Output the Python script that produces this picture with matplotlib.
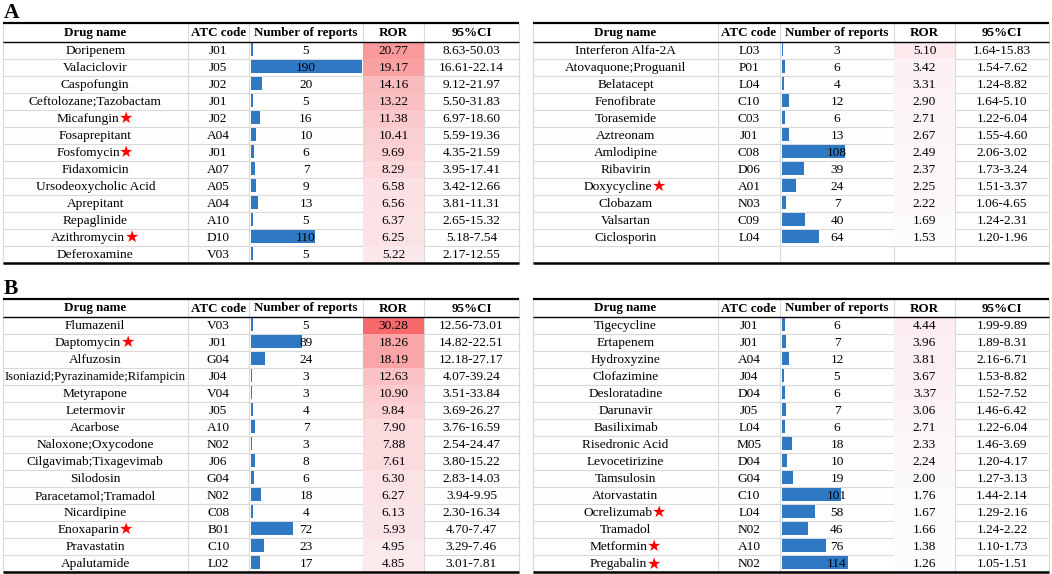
import matplotlib
matplotlib.use("Agg")
import matplotlib.pyplot as plt
from matplotlib.colors import LinearSegmentedColormap, Normalize

# ---- data ----
# panel A, left table
a1_names = ["Doripenem", "Valaciclovir", "Caspofungin", "Ceftolozane;Tazobactam", "Micafungin",
            "Fosaprepitant", "Fosfomycin", "Fidaxomicin", "Ursodeoxycholic Acid", "Aprepitant",
            "Repaglinide", "Azithromycin", "Deferoxamine"]
a1_atc = ["J01", "J05", "J02", "J01", "J02", "A04", "J01", "A07", "A05", "A04", "A10", "D10", "V03"]
a1_n = [5, 190, 20, 5, 16, 10, 6, 7, 9, 13, 5, 110, 5]
a1_ror = [20.77, 19.17, 14.16, 13.22, 11.38, 10.41, 9.69, 8.29, 6.58, 6.56, 6.37, 6.25, 5.22]
a1_ci = ["8.63-50.03", "16.61-22.14", "9.12-21.97", "5.50-31.83", "6.97-18.60", "5.59-19.36",
         "4.35-21.59", "3.95-17.41", "3.42-12.66", "3.81-11.31", "2.65-15.32", "5.18-7.54", "2.17-12.55"]
a1_star = ["Micafungin", "Fosfomycin", "Azithromycin"]

# panel A, right table
a2_names = ["Interferon Alfa-2A", "Atovaquone;Proguanil", "Belatacept", "Fenofibrate", "Torasemide",
            "Aztreonam", "Amlodipine", "Ribavirin", "Doxycycline", "Clobazam", "Valsartan", "Ciclosporin"]
a2_atc = ["L03", "P01", "L04", "C10", "C03", "J01", "C08", "D06", "A01", "N03", "C09", "L04"]
a2_n = [3, 6, 4, 12, 6, 13, 108, 39, 24, 7, 40, 64]
a2_ror = [5.10, 3.42, 3.31, 2.90, 2.71, 2.67, 2.49, 2.37, 2.25, 2.22, 1.69, 1.53]
a2_ci = ["1.64-15.83", "1.54-7.62", "1.24-8.82", "1.64-5.10", "1.22-6.04", "1.55-4.60",
         "2.06-3.02", "1.73-3.24", "1.51-3.37", "1.06-4.65", "1.24-2.31", "1.20-1.96"]
a2_star = ["Doxycycline"]

# panel B, left table
b1_names = ["Flumazenil", "Daptomycin", "Alfuzosin", "Isoniazid;Pyrazinamide;Rifampicin", "Metyrapone",
            "Letermovir", "Acarbose", "Naloxone;Oxycodone", "Cilgavimab;Tixagevimab", "Silodosin",
            "Paracetamol;Tramadol", "Nicardipine", "Enoxaparin", "Pravastatin", "Apalutamide"]
b1_atc = ["V03", "J01", "G04", "J04", "V04", "J05", "A10", "N02", "J06", "G04", "N02", "C08", "B01", "C10", "L02"]
b1_n = [5, 89, 24, 3, 3, 4, 7, 3, 8, 6, 18, 4, 72, 23, 17]
b1_ror = [30.28, 18.26, 18.19, 12.63, 10.90, 9.84, 7.90, 7.88, 7.61, 6.30, 6.27, 6.13, 5.93, 4.95, 4.85]
b1_ci = ["12.56-73.01", "14.82-22.51", "12.18-27.17", "4.07-39.24", "3.51-33.84", "3.69-26.27",
         "3.76-16.59", "2.54-24.47", "3.80-15.22", "2.83-14.03", "3.94-9.95", "2.30-16.34",
         "4.70-7.47", "3.29-7.46", "3.01-7.81"]
b1_star = ["Daptomycin", "Enoxaparin"]

# panel B, right table
b2_names = ["Tigecycline", "Ertapenem", "Hydroxyzine", "Clofazimine", "Desloratadine", "Darunavir",
            "Basiliximab", "Risedronic Acid", "Levocetirizine", "Tamsulosin", "Atorvastatin",
            "Ocrelizumab", "Tramadol", "Metformin", "Pregabalin"]
b2_atc = ["J01", "J01", "A04", "J04", "D04", "J05", "L04", "M05", "D04", "G04", "C10", "L04", "N02", "A10", "N02"]
b2_n = [6, 7, 12, 5, 6, 7, 6, 18, 10, 19, 101, 58, 46, 76, 114]
b2_ror = [4.44, 3.96, 3.81, 3.67, 3.37, 3.06, 2.71, 2.33, 2.24, 2.00, 1.76, 1.67, 1.66, 1.38, 1.26]
b2_ci = ["1.99-9.89", "1.89-8.31", "2.16-6.71", "1.53-8.82", "1.52-7.52", "1.46-6.42", "1.22-6.04",
         "1.46-3.69", "1.20-4.17", "1.27-3.13", "1.44-2.14", "1.29-2.16", "1.24-2.22", "1.10-1.73", "1.05-1.51"]
b2_star = ["Ocrelizumab", "Metformin", "Pregabalin"]

headers = ["Drug name", "ATC code", "Number of reports", "ROR", "95%CI"]

# shared scales over all four tables
all_n = a1_n + a2_n + b1_n + b2_n
all_ror = a1_ror + a2_ror + b1_ror + b2_ror
n_max = max(all_n)
ror_norm = Normalize(vmin=min(all_ror), vmax=max(all_ror))
ror_cmap = LinearSegmentedColormap.from_list("ror", ["#FCFCFF", "#F8696B"])
BAR_COLOR = "#2F78C4"

SERIF = ["Liberation Serif", "DejaVu Serif"]
STAR_FONT = ["DejaVu Sans"]
FS = 9.6       # body text
FS_HEAD = 9.4  # bold header
FS_STAR = 11.5

# ---- layout, in pixels ----
W, H = 1052, 574
LEFT_X = [3, 187.5, 249, 363, 424, 519]
RIGHT_X = [533, 718, 780, 894, 955, 1049]

fig = plt.figure(figsize=(W / 100, H / 100), dpi=100)
ax = fig.add_axes([0, 0, 1, 1])
ax.set_xlim(0, W)
ax.set_ylim(H, 0)
ax.axis("off")
renderer = fig.canvas.get_renderer()


def text_width(s, **kw):
    t = ax.text(0, 0, s, **kw)
    w = t.get_window_extent(renderer=renderer).width
    t.remove()
    return w


def draw_table(xs, top, head_bot, row_h, nrows, names, atc, n, ror, ci, stars):
    bottom = head_bot + row_h * nrows
    # faint excel gridlines
    for i in range(nrows):
        y = head_bot + row_h * (i + 1)
        ax.plot([xs[0], xs[-1]], [y, y], color="#D9D9D9", lw=0.8, zorder=1)
    for x in xs:
        ax.plot([x, x], [top, bottom], color="#D9D9D9", lw=0.8, zorder=1)

    # header
    for j, h in enumerate(headers):
        ax.text((xs[j] + xs[j + 1]) / 2, (top + head_bot) / 2 + 0.5, h, ha="center", va="center",
                fontsize=FS_HEAD, fontweight="bold", family=SERIF, zorder=4)

    for i in range(len(names)):
        y0 = head_bot + row_h * i
        yc = y0 + row_h / 2 + 0.5
        # drug name (+ red star)
        cx = (xs[0] + xs[1]) / 2
        name_w_max = xs[1] - xs[0] - 3
        fs = FS
        wn = text_width(names[i], fontsize=fs, family=SERIF)
        if wn > name_w_max:
            fs = FS * name_w_max / wn
            wn = name_w_max
        if names[i] in stars:
            ws = text_width("\u2605", fontsize=FS_STAR, family=STAR_FONT)
            x0 = cx - (wn + ws) / 2
            ax.text(x0, yc, names[i], ha="left", va="center", fontsize=fs, family=SERIF, zorder=4)
            ax.text(x0 + wn - 0.5, yc - 0.5, "\u2605", ha="left", va="center", fontsize=FS_STAR,
                    family=STAR_FONT, color="#FF0000", zorder=4)
        else:
            ax.text(cx, yc, names[i], ha="center", va="center", fontsize=fs, family=SERIF, zorder=4)
        ax.text((xs[1] + xs[2]) / 2, yc, atc[i], ha="center", va="center", fontsize=FS, family=SERIF, zorder=4)

        # data bar for number of reports
        col_w = xs[3] - xs[2] - 3
        ax.barh(y0 + 1 + (row_h - 4) / 2, n[i] / n_max * col_w, height=row_h - 4, left=xs[2] + 1.5,
                color=BAR_COLOR, zorder=2)
        ax.text((xs[2] + xs[3]) / 2, yc, str(n[i]), ha="center", va="center", fontsize=FS, family=SERIF, zorder=4)

        # colour scale for ROR
        ax.add_patch(plt.Rectangle((xs[3], y0), xs[4] - xs[3], row_h,
                                   facecolor=ror_cmap(ror_norm(ror[i])), edgecolor="none", zorder=1.5))
        ax.text((xs[3] + xs[4]) / 2, yc, f"{ror[i]:.2f}", ha="center", va="center", fontsize=FS,
                family=SERIF, zorder=4)
        ax.text((xs[4] + xs[5]) / 2, yc, ci[i], ha="center", va="center", fontsize=FS, family=SERIF, zorder=4)

    # three-line table borders
    ax.plot([xs[0], xs[-1]], [top, top], color="black", lw=1.6, zorder=5, solid_capstyle="butt")
    ax.plot([xs[0], xs[-1]], [head_bot, head_bot], color="black", lw=1.0, zorder=5, solid_capstyle="butt")
    ax.plot([xs[0], xs[-1]], [bottom, bottom], color="black", lw=1.8, zorder=5, solid_capstyle="butt")


# panel A
draw_table(LEFT_X, 23, 41.5, 17.05, 13, a1_names, a1_atc, a1_n, a1_ror, a1_ci, a1_star)
draw_table(RIGHT_X, 23, 41.5, 17.05, 13, a2_names, a2_atc, a2_n, a2_ror, a2_ci, a2_star)
# panel B
draw_table(LEFT_X, 299, 317, 17.03, 15, b1_names, b1_atc, b1_n, b1_ror, b1_ci, b1_star)
draw_table(RIGHT_X, 299, 317, 17.03, 15, b2_names, b2_atc, b2_n, b2_ror, b2_ci, b2_star)

ax.text(4, 18, "A", fontsize=15.5, fontweight="bold", family=SERIF, va="baseline")
ax.text(4, 294, "B", fontsize=15.5, fontweight="bold", family=SERIF, va="baseline")

fig.savefig("out.png", dpi=100)
